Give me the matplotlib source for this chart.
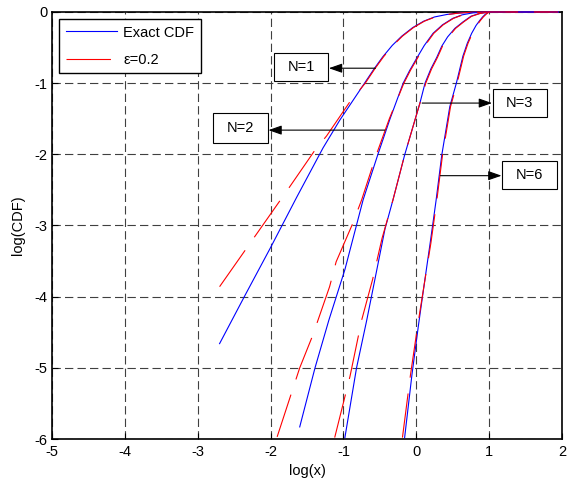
import matplotlib
matplotlib.use("Agg")
import matplotlib.pyplot as plt
from matplotlib.patches import Rectangle

plt.rcParams["font.family"] = ["Liberation Sans", "DejaVu Sans"]
plt.rcParams["lines.scale_dashes"] = False
plt.rcParams["axes.unicode_minus"] = False

# values (log10 scale on both axes)
n1_exact_x = [-2.70, -2.35, -2.00, -1.64, -1.28, -1.05, -0.71, -0.58, -0.46, -0.33, -0.20, -0.05,
              0.10, 0.25, 0.42, 0.58, 0.75, 1.00, 1.95]
n1_exact_y = [-4.66, -3.98, -3.31, -2.60, -1.91, -1.52, -1.00, -0.80, -0.63, -0.47, -0.34, -0.22,
              -0.13, -0.07, -0.035, -0.015, -0.004, 0.0, 0.0]
n1_eps_x = [-2.70, -2.22, -1.74, -1.39, -1.23, -0.91, -0.70, -0.57, -0.45, -0.32, -0.19, -0.04,
            0.11, 0.26, 0.43, 0.59, 0.76, 1.00, 1.95]
n1_eps_y = [-3.86, -3.16, -2.46, -1.94, -1.74, -1.26, -1.00, -0.80, -0.63, -0.47, -0.34, -0.22,
            -0.13, -0.07, -0.035, -0.015, -0.004, 0.0, 0.0]

n2_exact_x = [-1.60, -1.39, -1.20, -0.98, -0.73, -0.53, -0.36, -0.18, -0.09, 0.00, 0.11, 0.23,
              0.36, 0.50, 0.63, 0.78, 1.00, 1.95]
n2_exact_y = [-5.83, -5.00, -4.33, -3.62, -2.64, -2.01, -1.50, -1.00, -0.82, -0.66, -0.47, -0.30,
              -0.18, -0.09, -0.04, -0.012, 0.0, 0.0]
n2_eps_x = [-1.91, -1.60, -1.42, -1.19, -1.10, -0.88, -0.75, -0.55, -0.37, -0.17, -0.08, 0.01,
            0.12, 0.24, 0.37, 0.51, 0.64, 0.79, 1.00, 1.95]
n2_eps_y = [-5.97, -5.00, -4.54, -3.86, -3.51, -2.99, -2.64, -2.01, -1.50, -1.00, -0.82, -0.66,
            -0.47, -0.30, -0.18, -0.09, -0.04, -0.012, 0.0, 0.0]

n3_exact_x = [-0.98, -0.82, -0.68, -0.43, -0.32, -0.16, 0.05, 0.12, 0.20, 0.28, 0.35, 0.43,
              0.53, 0.64, 0.75, 0.87, 1.00, 1.95]
n3_exact_y = [-5.98, -5.00, -4.33, -3.05, -2.64, -2.01, -1.28, -1.00, -0.80, -0.64, -0.48, -0.35,
              -0.23, -0.14, -0.06, -0.02, 0.0, 0.0]
n3_eps_x = [-1.12, -0.91, -0.75, -0.60, -0.47, -0.42, -0.32, -0.16, 0.05, 0.13, 0.21, 0.29,
            0.36, 0.44, 0.54, 0.65, 0.76, 0.88, 1.00, 1.95]
n3_eps_y = [-5.98, -5.12, -4.33, -3.76, -3.18, -3.00, -2.64, -2.01, -1.28, -1.00, -0.80, -0.64,
            -0.48, -0.35, -0.23, -0.14, -0.06, -0.02, 0.0, 0.0]

n6_exact_x = [-0.16, -0.06, 0.03, 0.11, 0.19, 0.27, 0.35, 0.46, 0.55, 0.64, 0.70, 0.76, 0.82,
              0.87, 0.91, 0.95, 1.00, 1.95]
n6_exact_y = [-5.98, -5.10, -4.40, -3.82, -3.25, -2.66, -2.01, -1.33, -1.00, -0.62, -0.44, -0.30,
              -0.19, -0.12, -0.07, -0.03, 0.0, 0.0]
n6_eps_x = [-0.19, -0.08, 0.02, 0.11, 0.20, 0.28, 0.36, 0.47, 0.56, 0.65, 0.71, 0.77, 0.83,
            0.88, 0.92, 0.96, 1.00, 1.95]
n6_eps_y = [-5.98, -5.10, -4.40, -3.82, -3.25, -2.66, -2.01, -1.33, -1.00, -0.62, -0.44, -0.30,
            -0.19, -0.12, -0.07, -0.03, 0.0, 0.0]

x_ticks = [-5, -4, -3, -2, -1, 0, 1, 2]
y_ticks = [-6, -5, -4, -3, -2, -1, 0]

# label text, box (x0, y0, x1, y1) and arrow (tail on curve -> head at box)
labels = ["N=1", "N=2", "N=3", "N=6"]
label_boxes = [(-1.95, -0.97, -1.21, -0.58), (-2.79, -1.84, -2.04, -1.42),
               (1.05, -1.47, 1.79, -1.08), (1.18, -2.49, 1.93, -2.09)]
arrow_tails = [(-0.56, -0.79), (-0.43, -1.66), (0.08, -1.28), (0.33, -2.30)]
arrow_heads = [(-1.20, -0.79), (-2.03, -1.66), (1.04, -1.28), (1.17, -2.30)]


def main():
    fig = plt.figure(figsize=(5.69, 4.91), dpi=100)
    ax = fig.add_axes([0.0914, 0.1059, 0.8963, 0.8697])

    pairs = [(n1_exact_x, n1_exact_y, n1_eps_x, n1_eps_y),
             (n2_exact_x, n2_exact_y, n2_eps_x, n2_eps_y),
             (n3_exact_x, n3_exact_y, n3_eps_x, n3_eps_y),
             (n6_exact_x, n6_exact_y, n6_eps_x, n6_eps_y)]
    dash = (0, (32, 11.5))
    for i, (ex, ey, rx, ry) in enumerate(pairs):
        ax.plot(ex, ey, color="#0000ff", lw=0.8, zorder=3, clip_on=False,
                label="Exact CDF" if i == 0 else None)
        ax.plot(rx, ry, color="#ff0000", lw=0.8, ls=dash, zorder=3, clip_on=False,
                label="\u03b5=0.2" if i == 0 else None)

    for text, box, tail, head in zip(labels, label_boxes, arrow_tails, arrow_heads):
        x0, y0, x1, y1 = box
        ax.add_patch(Rectangle((x0, y0), x1 - x0, y1 - y0, facecolor="white",
                               edgecolor="black", lw=0.8, zorder=4))
        ax.text((x0 + x1) / 2, (y0 + y1) / 2, text, ha="center", va="center",
                fontsize=10.5, zorder=5)
        ax.annotate("", xy=head, xytext=tail, zorder=4,
                    arrowprops=dict(arrowstyle="-|>,head_length=0.8,head_width=0.28",
                                    color="black", lw=0.8, shrinkA=0, shrinkB=0))

    ax.set_xlim(-5, 2)
    ax.set_ylim(-6, 0)
    ax.set_xticks(x_ticks)
    ax.set_yticks(y_ticks)
    ax.grid(True, color="0.25", ls=(0, (6, 3)), lw=0.8)
    ax.tick_params(direction="in", length=4, width=0.8, labelsize=10.5)
    ax.tick_params(axis="y", pad=3)
    ax.tick_params(axis="x", pad=4)
    for spine in ax.spines.values():
        spine.set_linewidth(1.2)

    ax.set_xlabel("log(x)", fontsize=10.5, labelpad=4)
    ax.set_ylabel("log(CDF)", fontsize=10.5)
    ax.yaxis.set_label_coords(-0.052, 0.5)

    ax.legend(loc="upper left", bbox_to_anchor=(0.0137, 0.9836), borderaxespad=0,
              fancybox=False, edgecolor="black", framealpha=1, fontsize=10.5,
              handlelength=3.5, handletextpad=0.45, labelspacing=0.9, borderpad=0.45)

    fig.savefig("out.png", dpi=100)
    plt.close(fig)


if __name__ == "__main__":
    main()
